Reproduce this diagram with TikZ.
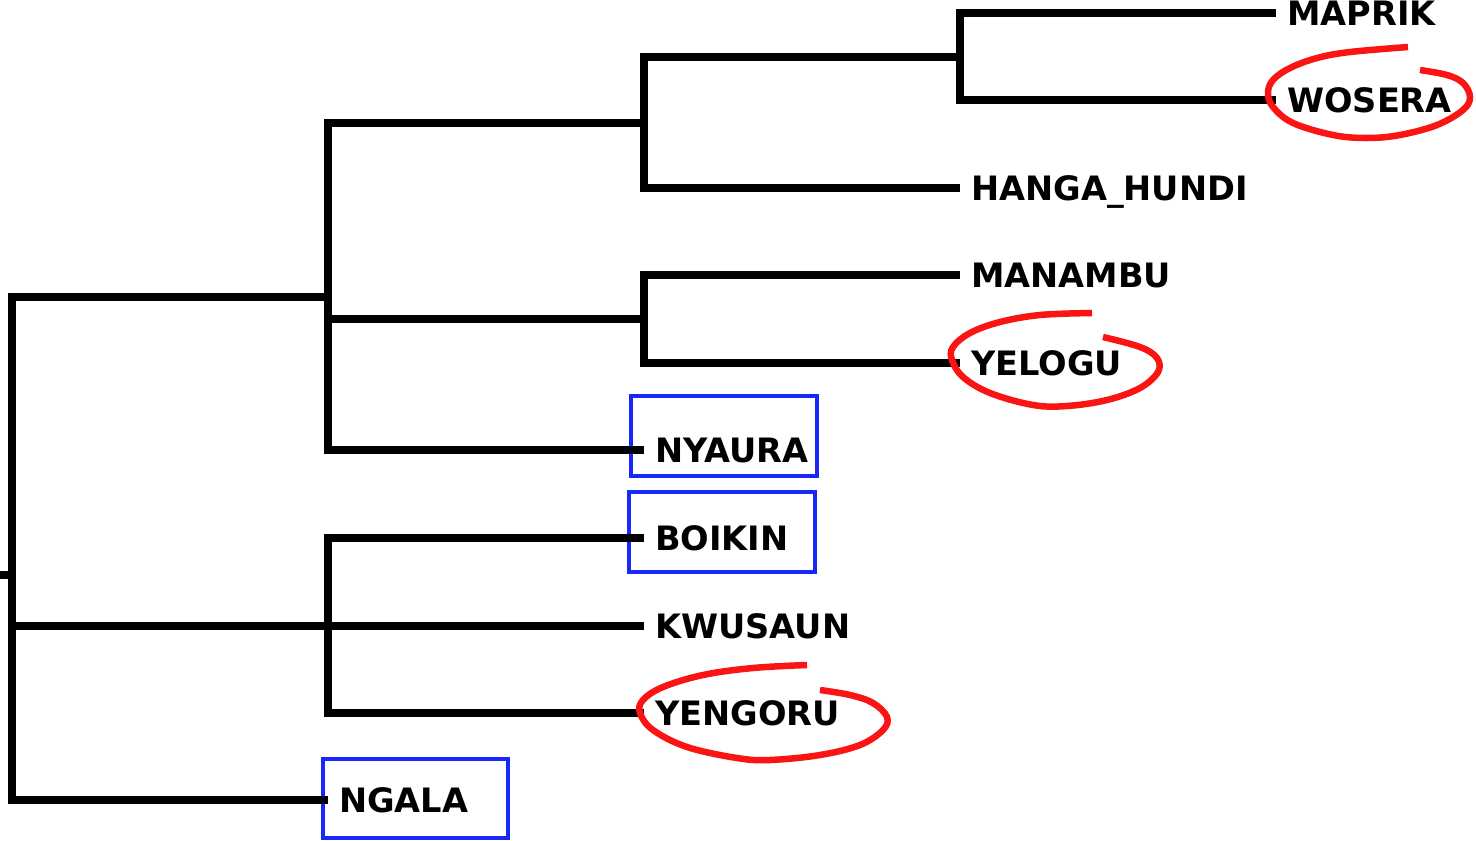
\documentclass[tikz,border=0pt]{standalone}
\usepackage{fontspec}
\setmainfont{DejaVu Sans}
\usetikzlibrary{calc}
\definecolor{boxblue}{RGB}{25,40,250}
\definecolor{markred}{RGB}{250,20,20}
\begin{document}
\begin{tikzpicture}[x=1pt,y=-1pt,
  branch/.style={line width=8pt,line join=miter,line cap=butt},
  lbl/.style={anchor=base west,inner sep=0pt,font=\fontsize{33.6}{40}\selectfont\bfseries,xshift=11pt,yshift=-12.5pt},
  hibox/.style={draw=boxblue,line width=4.5pt},
  circ/.style={draw=markred,line width=6.5pt,line cap=butt}]
\useasboundingbox (0,0) rectangle (1476,841);
% internal nodes
\coordinate (root) at (12,575);
\coordinate (rstub) at (0,575);
\coordinate (cA) at (328,297);
\coordinate (cB) at (644,122.5);
\coordinate (cC) at (960,56.5);
\coordinate (cD) at (644,319);
\coordinate (cE) at (328,626);
% leaf tips
\coordinate (tMAPRIK) at (1276,13);
\coordinate (tWOSERA) at (1276,100);
\coordinate (tHANGA) at (960,188);
\coordinate (tMANAMBU) at (960,275);
\coordinate (tYELOGU) at (960,363);
\coordinate (tNYAURA) at (644,450);
\coordinate (tBOIKIN) at (644,538);
\coordinate (tKWUSAUN) at (644,626);
\coordinate (tYENGORU) at (644,713);
\coordinate (tNGALA) at (328,800);
% highlight boxes
\draw[hibox] (631,396) rectangle (817,476);
\draw[hibox] (629,492) rectangle (815,572);
\draw[hibox] (323,759) rectangle (508,838);
% branches
\draw[branch] (rstub) -- (root);
\draw[branch] (root) |- (cA);
\draw[branch] (root) |- (cE);
\draw[branch] (root) |- (tNGALA);
\draw[branch] (cA) |- (cB);
\draw[branch] (cA) |- (cD);
\draw[branch] (cA) |- (tNYAURA);
\draw[branch] (cB) |- (cC);
\draw[branch] (cB) |- (tHANGA);
\draw[branch] (cC) |- (tMAPRIK);
\draw[branch] (cC) |- (tWOSERA);
\draw[branch] (cD) |- (tMANAMBU);
\draw[branch] (cD) |- (tYELOGU);
\draw[branch] (cE) |- (tBOIKIN);
\draw[branch] (cE) |- (tKWUSAUN);
\draw[branch] (cE) |- (tYENGORU);
% labels
\node[lbl] (lMAPRIK) at (tMAPRIK) {MAPRIK};
\node[lbl] (lWOSERA) at (tWOSERA) {WOSERA};
\node[lbl] (lHANGA) at (tHANGA) {HANGA\_HUNDI};
\node[lbl] (lMANAMBU) at (tMANAMBU) {MANAMBU};
\node[lbl] (lYELOGU) at (tYELOGU) {YELOGU};
\node[lbl] (lNYAURA) at (tNYAURA) {NYAURA};
\node[lbl] (lBOIKIN) at (tBOIKIN) {BOIKIN};
\node[lbl] (lKWUSAUN) at (tKWUSAUN) {KWUSAUN};
\node[lbl] (lYENGORU) at (tYENGORU) {YENGORU};
\node[lbl] (lNGALA) at (tNGALA) {NGALA};
% red hand-drawn circles
\draw[circ] plot[smooth,tension=0.6] coordinates {(1408,47) (1350,52) (1317,58) (1290,68) (1273,80) (1268,93) (1273,107) (1293,123) (1333,135) (1367,138) (1400,135) (1437,125) (1463,110) (1470,97) (1463,83) (1447,75) (1420,70)};
\draw[circ] plot[smooth,tension=0.6] coordinates {(1092,313) (1040,315) (1000,322) (970,333) (953,347) (952,360) (963,377) (990,393) (1033,405) (1067,406) (1107,400) (1140,388) (1158,372) (1157,358) (1140,347) (1103,337)};
\draw[circ] plot[smooth,tension=0.6] coordinates {(807,665) (753,668) (703,675) (663,687) (643,700) (640,713) (653,730) (687,747) (737,758) (770,760) (820,755) (860,745) (883,730) (887,717) (873,703) (850,695) (820,690)};
\end{tikzpicture}
\end{document}
